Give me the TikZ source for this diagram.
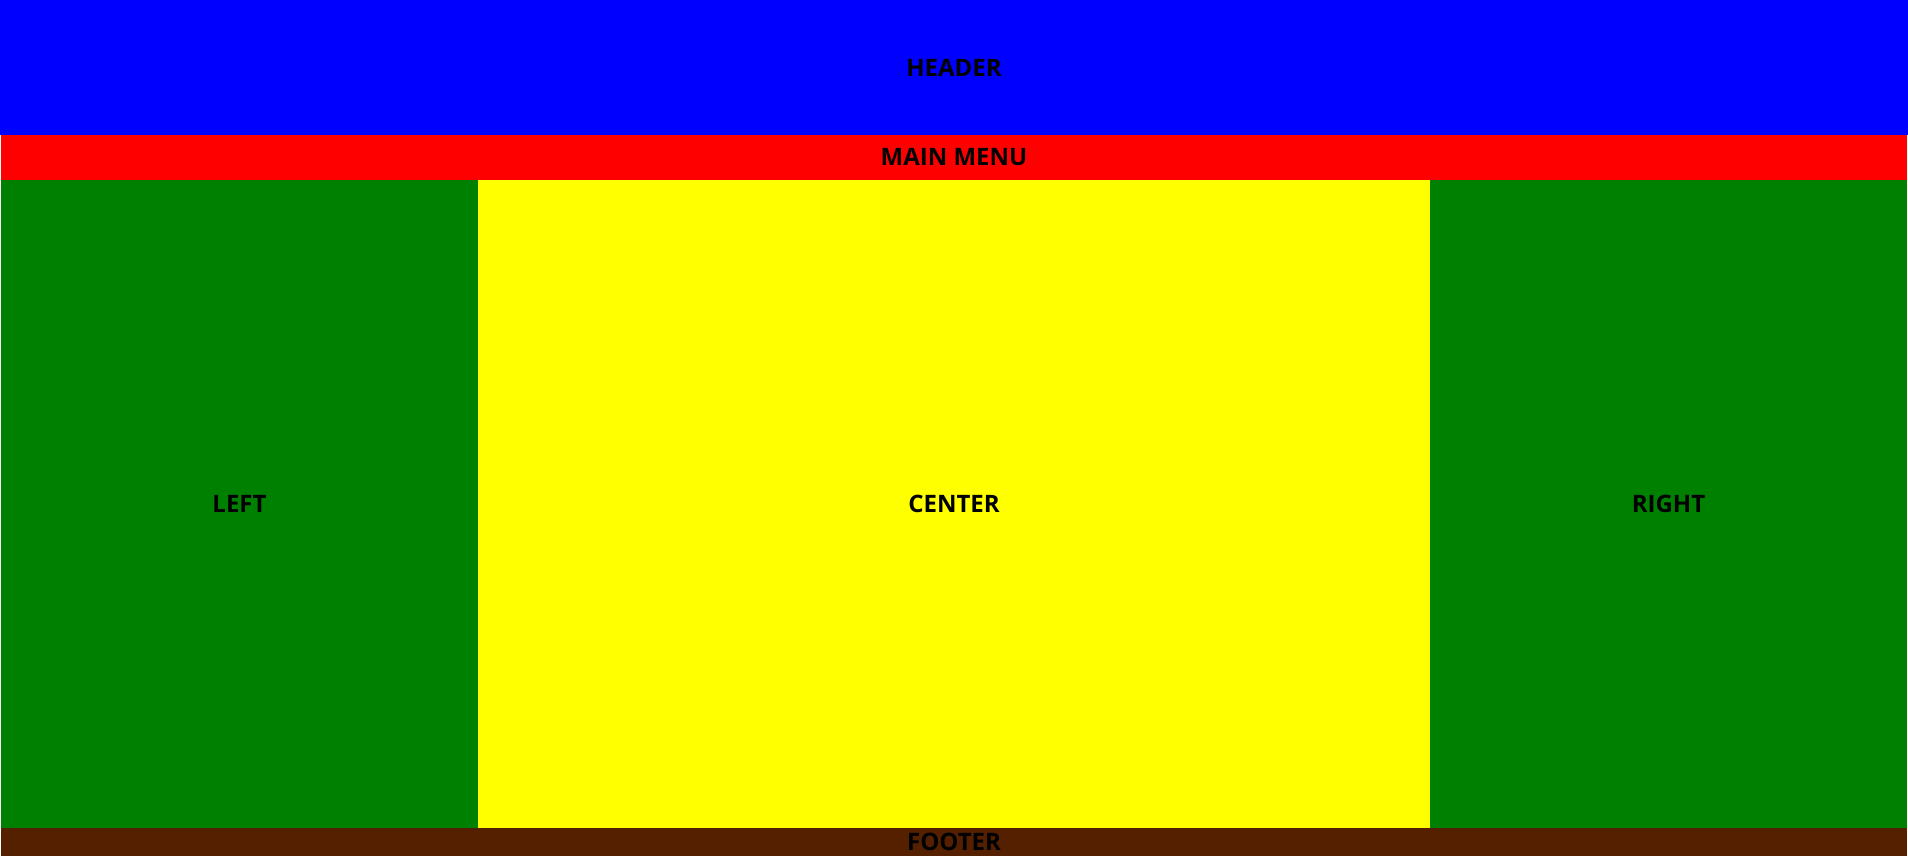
\documentclass[tikz,border=0pt]{standalone}
\usepackage{fontspec}
\setmainfont{Open Sans}
\usetikzlibrary{calc}
\definecolor{footerbrown}{RGB}{84,32,0}
\definecolor{leafgreen}{RGB}{0,128,0}
\definecolor{pureyellow}{RGB}{255,255,0}
\definecolor{pureblue}{RGB}{0,0,255}
\definecolor{purered}{RGB}{255,0,0}
\begin{document}
\begin{tikzpicture}[x=0.5pt, y=-0.5pt, label text/.style={font=\fontsize{12}{14}\selectfont\bfseries, text=black}]
		
		\useasboundingbox (0,0) rectangle (1908,856);
		
		\coordinate (HA) at (0,0);
		\coordinate (HB) at (1908,135);
		\coordinate (MA) at (1,135);
		\coordinate (MB) at (1907,180);
		\coordinate (LA) at (1,180);
		\coordinate (LB) at (478,828);
		\coordinate (CA) at (478,180);
		\coordinate (CB) at (1430,828);
		\coordinate (RA) at (1430,180);
		\coordinate (RB) at (1907,828);
		\coordinate (FA) at (1,828);
		\coordinate (FB) at (1907,856);
		
		% Page regions
		\fill[pureblue] (HA) rectangle (HB);
		\fill[purered] (MA) rectangle (MB);
		\fill[leafgreen] (LA) rectangle (LB);
		\fill[pureyellow] (CA) rectangle (CB);
		\fill[leafgreen] (RA) rectangle (RB);
		\fill[footerbrown] (FA) rectangle (FB);
		
		% Labels
		\node[label text] (header) at ($(HA)!0.5!(HB)$) {HEADER};
		\node[label text] (menu) at ($(MA)!0.5!(MB)$) {MAIN MENU};
		\node[label text] (left) at ($(LA)!0.5!(LB)$) {LEFT};
		\node[label text] (center) at ($(CA)!0.5!(CB)$) {CENTER};
		\node[label text] (right) at ($(RA)!0.5!(RB)$) {RIGHT};
		\node[label text] (footer) at ($(FA)!0.5!(FB)$) {FOOTER};
		
	\end{tikzpicture}
\end{document}
